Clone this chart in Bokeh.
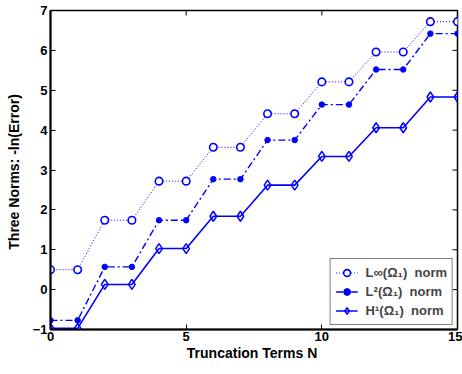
import math
from bokeh.plotting import figure
from bokeh.models import FixedTicker, Range1d, Legend, LegendItem
from bokeh.embed import file_html
from bokeh.resources import INLINE

# ---- data ----
N = list(range(16))
linf = [0.50, 0.50, 1.74, 1.74, 2.72, 2.72, 3.57, 3.57, 4.41, 4.41, 5.21, 5.21, 5.96, 5.96, 6.72, 6.72]
l2 = [-0.77, -0.77, 0.57, 0.57, 1.74, 1.74, 2.77, 2.77, 3.75, 3.75, 4.64, 4.64, 5.52, 5.52, 6.42, 6.42]
h1 = [-0.97, -0.97, 0.13, 0.13, 1.03, 1.03, 1.84, 1.84, 2.62, 2.62, 3.34, 3.34, 4.06, 4.06, 4.83, 4.83]
x_ticks = [0, 5, 10, 15]
y_ticks = [-1, 0, 1, 2, 3, 4, 5, 6, 7]
labels = ["L\u221e(\u03a9\u2081)  norm", "L\u00b2(\u03a9\u2081)  norm", "H\u00b9(\u03a9\u2081)  norm"]
x_label = "Truncation Terms  N"
y_label = "Three Norms:  -ln(Error)"

BLUE = "#0000ff"
FONT = "Liberation Sans"
X0, X1 = 0, 15
Y0, Y1 = -1, 7

p = figure(width=462, height=374, output_backend="svg", toolbar_location=None,
           x_range=Range1d(X0, X1), y_range=Range1d(Y0, Y1),
           min_border_left=50, min_border_right=5, min_border_top=10, min_border_bottom=45)
p.xgrid.visible = False
p.ygrid.visible = False
p.outline_line_color = "black"
p.outline_line_width = 1.5
p.background_fill_color = "white"
p.border_fill_color = "white"


def style_axis(ax):
    ax.axis_line_width = 2
    ax.major_tick_in = 5
    ax.major_tick_out = 0
    ax.minor_tick_line_color = None
    ax.major_tick_line_width = 1
    ax.major_label_text_font = FONT
    ax.major_label_text_font_style = "bold"
    ax.major_label_text_font_size = "13px"
    ax.major_label_text_color = "black"
    ax.axis_label_text_font = FONT
    ax.axis_label_text_font_style = "bold"
    ax.axis_label_text_font_size = "14px"
    ax.axis_label_text_color = "black"


style_axis(p.xaxis[0])
style_axis(p.yaxis[0])
p.xaxis[0].ticker = FixedTicker(ticks=x_ticks)
p.yaxis[0].ticker = FixedTicker(ticks=y_ticks)
p.xaxis[0].axis_label = x_label
p.yaxis[0].axis_label = y_label
p.xaxis[0].major_label_standoff = 2
p.yaxis[0].major_label_standoff = 3
p.xaxis[0].axis_label_standoff = 1
p.yaxis[0].axis_label_standoff = 8

# mirrored tick marks on top and right edges
p.ray(x=x_ticks, y=[Y1] * len(x_ticks), length=5, length_units="screen",
      angle=-math.pi / 2, color="black", line_width=1)
p.ray(x=[X1] * len(y_ticks), y=y_ticks, length=5, length_units="screen",
      angle=math.pi, color="black", line_width=1)

r_inf_l = p.line(N, linf, color=BLUE, line_width=1, line_dash="1 2")
r_inf_m = p.scatter(N, linf, marker="circle", size=7.5, fill_color="white", line_color=BLUE, line_width=1.6)
r_l2_l = p.line(N, l2, color=BLUE, line_width=1.4, line_dash="7 3 2 3")
r_l2_m = p.scatter(N, l2, marker="circle", size=5.5, fill_color=BLUE, line_color=BLUE)
r_h1_l = p.line(N, h1, color=BLUE, line_width=1.6)
r_h1_m = p.scatter(N, h1, marker="diamond", size=10, fill_color=None, line_color=BLUE, line_width=1.5)

legend = Legend(items=[
    LegendItem(label=labels[0], renderers=[r_inf_l, r_inf_m]),
    LegendItem(label=labels[1], renderers=[r_l2_l, r_l2_m]),
    LegendItem(label=labels[2], renderers=[r_h1_l, r_h1_m]),
], location="bottom_right")
legend.border_line_color = "black"
legend.border_line_width = 1.5
legend.background_fill_alpha = 1
legend.label_text_font = FONT
legend.label_text_font_style = "bold"
legend.label_text_font_size = "13px"
legend.glyph_width = 22
legend.glyph_height = 17
legend.label_height = 17
legend.spacing = 2
legend.padding = 5
legend.margin = 4
legend.label_standoff = 8
p.add_layout(legend)

open("out.html", "w").write(file_html(p, INLINE))
